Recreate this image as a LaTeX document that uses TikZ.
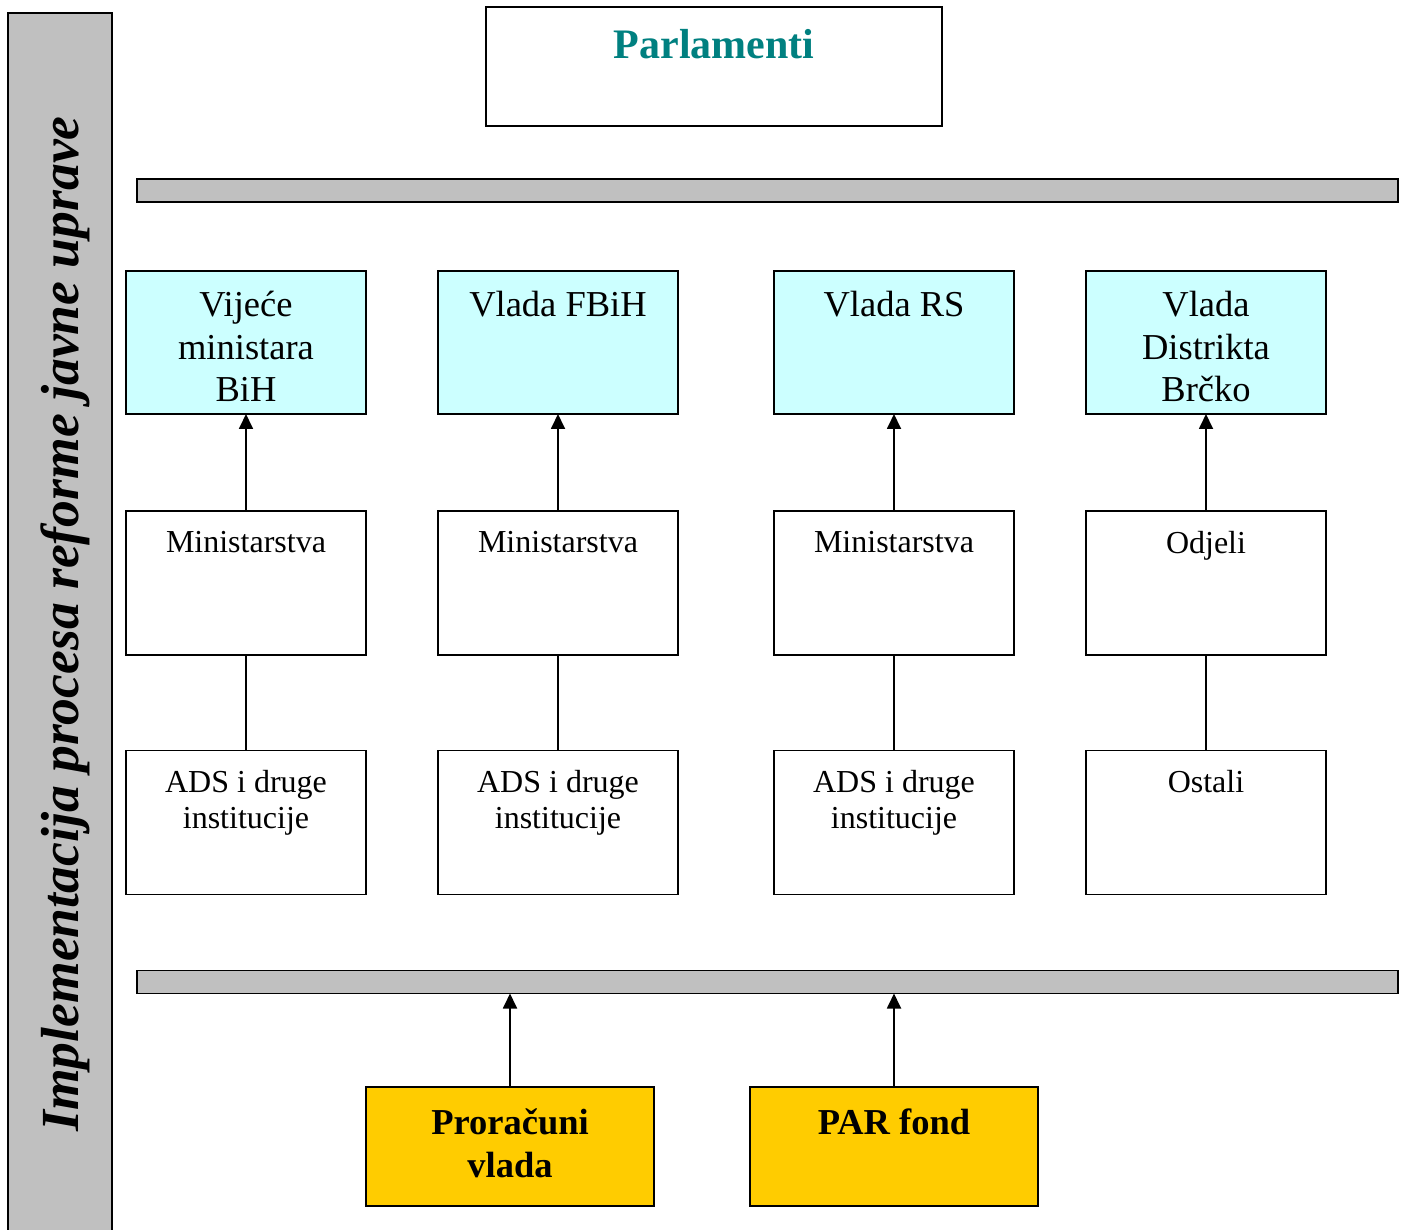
\documentclass[tikz,border=0pt]{standalone}
\usepackage{fontspec}
\setmainfont{Liberation Serif}
\usetikzlibrary{arrows.meta}
\definecolor{grayfill}{HTML}{C0C0C0}
\definecolor{cyanfill}{HTML}{CCFFFF}
\definecolor{goldfill}{HTML}{FFCC00}
\definecolor{tealtext}{HTML}{008080}
\tikzset{
  box/.style={draw=black, line width=1.8pt, rectangle, inner sep=0pt, outer sep=0pt},
  govbox/.style={box, fill=cyanfill, minimum width=240pt, minimum height=143pt},
  plainbox/.style={box, fill=white, minimum width=240pt, minimum height=144pt},
  fundbox/.style={box, fill=goldfill, minimum width=288pt, minimum height=119pt},
  bar/.style={box, fill=grayfill, minimum width=1261pt, minimum height=23pt},
  bigtxt/.style={anchor=north, inner sep=0pt, align=center, font=\fontsize{36.5}{42.5}\selectfont},
  midtxt/.style={anchor=north, inner sep=0pt, align=center, font=\fontsize{32}{36}\selectfont},
  boldtxt/.style={anchor=north, inner sep=0pt, align=center, font=\fontsize{36.5}{43}\selectfont\bfseries},
  link/.style={line width=1.8pt, draw=black},
  arr/.style={link, -{Triangle[length=15pt,width=14pt]}}
}
\begin{document}
\begin{tikzpicture}[x=1pt,y=-1pt]
\useasboundingbox (0,0) rectangle (1409,1230);
% left vertical band
\node[box, fill=grayfill, minimum width=104pt, minimum height=1230pt, anchor=north west] (side) at (8,13) {};
\node[rotate=90, anchor=base, inner sep=0pt, font=\fontsize{53.6}{60}\selectfont\bfseries\itshape] (sidetxt) at (78.5,624) {Implementacija procesa reforme javne uprave};
% parliament
\node[box, fill=white, minimum width=456pt, minimum height=119pt] (parl) at (714,66.5) {};
\node[anchor=north, inner sep=0pt, font=\fontsize{42}{48}\selectfont\bfseries, text=tealtext] (parltxt) at (714,29.5) {Parlamenti};
% bars
\node[bar] (bar1) at (767.5,190.5) {};
\node[bar] (bar2) at (767.5,982) {};
% governments
\node[govbox] (g1) at (246,342.5) {};
\node[govbox] (g2) at (558,342.5) {};
\node[govbox] (g3) at (894,342.5) {};
\node[govbox] (g4) at (1206,342.5) {};
\node[bigtxt] (g1t) at (246,291.2) {Vijeće\\ministara\\BiH};
\node[bigtxt] (g2t) at (558,291.2) {Vlada FBiH};
\node[bigtxt] (g3t) at (894,291.2) {Vlada RS};
\node[bigtxt] (g4t) at (1206,291.2) {Vlada\\Distrikta\\Brčko};
% ministries
\node[plainbox] (m1) at (246,583) {};
\node[plainbox] (m2) at (558,583) {};
\node[plainbox] (m3) at (894,583) {};
\node[plainbox] (m4) at (1206,583) {};
\node[midtxt] (m1t) at (246,530.9) {Ministarstva};
\node[midtxt] (m2t) at (558,530.9) {Ministarstva};
\node[midtxt] (m3t) at (894,530.9) {Ministarstva};
\node[midtxt] (m4t) at (1206,530.9) {Odjeli};
% institutions
\node[plainbox] (a1) at (246,822.5) {};
\node[plainbox] (a2) at (558,822.5) {};
\node[plainbox] (a3) at (894,822.5) {};
\node[plainbox] (a4) at (1206,822.5) {};
\node[midtxt] (a1t) at (246,769.9) {ADS i druge\\institucije};
\node[midtxt] (a2t) at (558,769.9) {ADS i druge\\institucije};
\node[midtxt] (a3t) at (894,769.9) {ADS i druge\\institucije};
\node[midtxt] (a4t) at (1206,769.9) {Ostali};
% funds
\node[fundbox] (f1) at (510,1146.5) {};
\node[fundbox] (f2) at (894,1146.5) {};
\node[boldtxt] (f1t) at (510,1108.2) {Proračuni\\vlada};
\node[boldtxt] (f2t) at (894,1108.2) {PAR fond};
% connectors
\foreach \i in {1,2,3,4}{
  \draw[arr] (m\i.north) -- (g\i.south);
  \draw[link] (m\i.south) -- (a\i.north);
}
\draw[arr] (f1.north) -- (f1.north |- bar2.south);
\draw[arr] (f2.north) -- (f2.north |- bar2.south);
\end{tikzpicture}
\end{document}
